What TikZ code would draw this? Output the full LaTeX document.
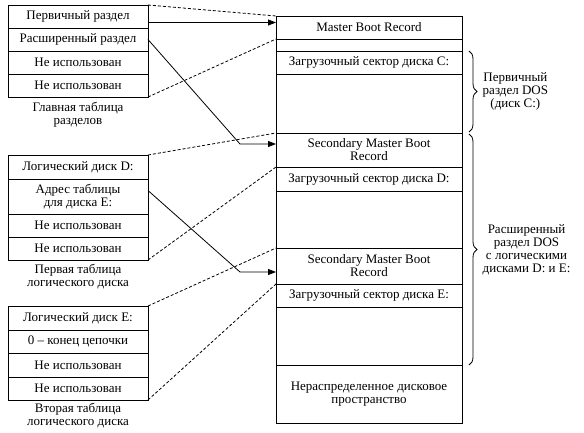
\documentclass[tikz,border=0pt]{standalone}
\usepackage{fontspec}
\setmainfont{Liberation Serif}
\usetikzlibrary{arrows.meta,decorations.pathreplacing}

\begin{document}
\begin{tikzpicture}[x=1pt,y=-1pt,line width=0.8pt,
    >={Triangle[length=8pt,width=6pt]},
    every node/.style={font=\fontsize{13}{13}\selectfont},
    cell/.style={draw,minimum width=140pt,inner sep=0pt,outer sep=0pt,align=center},
    blk/.style={draw,minimum width=186pt,inner sep=0pt,outer sep=0pt,align=center},
    link/.style={dash pattern=on 3pt off 2pt},
    brc/.style={decorate,decoration={brace,amplitude=8pt}}]
    \useasboundingbox (0,0) rectangle (584,433);
    % partition table of the MBR
    \node[cell,minimum height=23pt] (ta1) at (78,16.5) {Первичный раздел};
    \node[cell,minimum height=23pt] (ta2) at (78,39.5) {Расширенный раздел};
    \node[cell,minimum height=23pt] (ta3) at (78,62.5) {Не использован};
    \node[cell,minimum height=23pt] (ta4) at (78,85.5) {Не использован};
    \node[align=center] (capa) at (78,115) {Главная таблица\\разделов};
    % first logical disk table
    \node[cell,minimum height=24pt] (tb1) at (78,167) {Логический диск D:};
    \node[cell,minimum height=35pt] (tb2) at (78,196.5) {Адрес таблицы\\для диска E:};
    \node[cell,minimum height=23pt] (tb3) at (78,225.5) {Не использован};
    \node[cell,minimum height=23pt] (tb4) at (78,248.5) {Не использован};
    \node[align=center] (capb) at (78,277) {Первая таблица\\логического диска};
    % second logical disk table
    \node[cell,minimum height=24pt] (tc1) at (78,318) {Логический диск E:};
    \node[cell,minimum height=23pt] (tc2) at (78,341.5) {0 – конец цепочки};
    \node[cell,minimum height=24pt] (tc3) at (78,365) {Не использован};
    \node[cell,minimum height=23pt] (tc4) at (78,388.5) {Не использован};
    \node[align=center] (capc) at (78,416) {Вторая таблица\\логического диска};
    % disk layout
    \node[blk,minimum height=23pt] (mbr) at (369,27.5) {Master Boot Record};
    \node[blk,minimum height=12pt] (gap) at (369,45) {};
    \node[blk,minimum height=23pt] (bootc) at (369,62.5) {Загрузочный сектор диска C:};
    \node[blk,minimum height=59pt] (areac) at (369,103.5) {};
    \node[blk,minimum height=34pt] (smbrd) at (369,150) {Secondary Master Boot\\Record};
    \node[blk,minimum height=24pt] (bootd) at (369,179) {Загрузочный сектор диска D:};
    \node[blk,minimum height=57pt] (aread) at (369,219.5) {};
    \node[blk,minimum height=36pt] (smbre) at (369,266) {Secondary Master Boot\\Record};
    \node[blk,minimum height=23pt] (boote) at (369,295.5) {Загрузочный сектор диска E:};
    \node[blk,minimum height=58pt] (areae) at (369,336) {};
    \node[blk,minimum height=58pt] (free) at (369,394) {Нераспределенное дисковое\\пространство};
    % pointers
    \draw[->] ([yshift=-6pt]ta1.east) -- ([yshift=5pt]mbr.west);
    \draw[->] (ta2.east) -- ([xshift=-36pt,yshift=6pt]smbrd.west) -- ([yshift=6pt]smbrd.west);
    \draw[->] ([yshift=6pt]tb2.east) -- ([xshift=-36pt,yshift=-6pt]smbre.west) -- ([yshift=-6pt]smbre.west);
    % where each table lives
    \draw[link] (ta1.north east) -- (mbr.north west);
    \draw[link] (ta4.south east) -- (mbr.south west);
    \draw[link] (tb1.north east) -- (smbrd.north west);
    \draw[link] (tb4.south east) -- (smbrd.south west);
    \draw[link] (tc1.north east) -- (smbre.north west);
    \draw[link] (tc4.south east) -- (smbre.south west);
    % partitions
    \draw[brc] ([xshift=7pt]bootc.north east) -- ([xshift=7pt,yshift=1pt]areac.south east)
      node[midway,right=10pt,align=center] (dosc) {Первичный\\раздел DOS\\(диск C:)};
    \draw[brc] ([xshift=7pt,yshift=-1pt]smbrd.north east) -- ([xshift=7pt]areae.south east)
      node[midway,right=10pt,align=center] (dosx) {Расширенный\\раздел DOS\\с логическими\\дисками D: и E:};
\end{tikzpicture}
\end{document}
